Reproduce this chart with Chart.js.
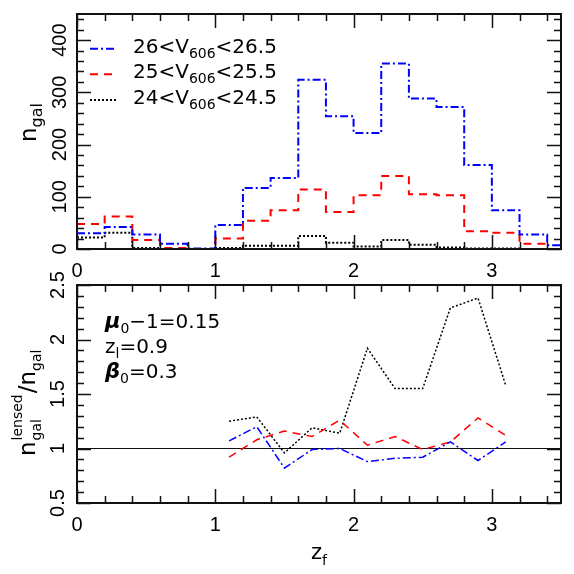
<!DOCTYPE html>
<html><head><meta charset="utf-8">
<script src="https://cdn.jsdelivr.net/npm/chart.js@4/dist/chart.umd.min.js"></script>
<style>
html,body{margin:0;padding:0;background:#fff;}
#wrap{position:relative;width:574px;height:574px;background:#fff;}
canvas{position:absolute;left:0;top:0;}
</style></head><body>
<div id="wrap"><canvas id="cTop" width="574" height="574"></canvas><canvas id="cBot" width="574" height="574"></canvas></div>
<script>
// ---- data ----
const binLeft = [0,0.2,0.4,0.6,0.8,1.0,1.2,1.4,1.6,1.8,2.0,2.2,2.4,2.6,2.8,3.0,3.2,3.4];
const binRightEnd = 3.6;
const histBlue  = [30,42,28,10,1,46,117,136,324,254,222,355,288,272,161,74,28,7];
const histRed   = [48,62,17,2,0,20,54,74,114,71,103,140,105,103,34,31,10,0];
const histBlack = [22,31,2,0,0,2,6,6,25,12,5,17,8,3,1,1,0,0];

const ratioZ     = [1.1,1.3,1.5,1.7,1.9,2.1,2.3,2.5,2.7,2.9,3.1];
const ratioBlue  = [1.07,1.20,0.82,0.99,1.00,0.88,0.91,0.92,1.06,0.89,1.06];
const ratioRed   = [0.92,1.08,1.16,1.11,1.26,1.03,1.11,0.99,1.06,1.28,1.12];
const ratioBlack = [1.25,1.29,0.96,1.19,1.14,1.92,1.55,1.55,2.29,2.38,1.58];

const xTicks = [0,1,2,3];
const xTickLabels = ['0','1','2','3'];
const yTopTicks = [0,100,200,300,400];
const yTopTickLabels = ['0','100','200','300','400'];
const yBotTicks = [0.5,1,1.5,2,2.5];
const yBotTickLabels = ['0.5','1','1.5','2','2.5'];
const legendLow = ['26','25','24'];
const legendHigh = ['26.5','25.5','24.5'];
const legendBand = '606';
const refLevel = 1;

// ---- helpers ----
function stepPoints(vals){
  const pts = binLeft.map((x,i)=>({x:x, y:vals[i]}));
  pts.push({x:binRightEnd, y:vals[vals.length-1]});
  return pts;
}
function linePoints(vals){ return ratioZ.map((x,i)=>({x:x,y:vals[i]})); }

const styles = {
  blue:{color:'#0000ff', dash:[8,3,2,3]},
  red:{color:'#ff0000', dash:[8,6]},
  black:{color:'#000000', dash:[2,2]}
};
function ds(label, data, st, w, stepped){
  return {label, data, borderColor:st.color, borderDash:st.dash, borderWidth:w,
          pointRadius:0, fill:false, stepped:stepped, tension:0, borderCapStyle:'butt'};
}

function drawRich(ctx, x, y, parts){
  let cx = x;
  for (const p of parts){
    ctx.font = (p.style||'') + ' ' + p.size + 'px ' + (p.family||'"DejaVu Sans"');
    ctx.fillText(p.t, cx, y + (p.dy||0));
    cx += ctx.measureText(p.t).width;
  }
  return cx;
}

function framePluginFactory(minorX, minorY){
  return {
    id:'frame',
    afterDatasetsDraw(chart){
      const {ctx, chartArea:a, scales} = chart;
      const xs = scales.x, ys = scales.y;
      ctx.save();
      ctx.strokeStyle = '#111';
      ctx.lineWidth = 1.5;
      ctx.beginPath();
      const majL = 14, minL = 7;
      const xmin = xs.min, xmax = xs.max, ymin = ys.min, ymax = ys.max;
      for (let k=0; ; k++){
        const v = xmin + k*minorX;
        if (v > xmax + 1e-9) break;
        const px = Math.round(xs.getPixelForValue(v)) + 0.5;
        const isMaj = Math.abs(v - Math.round(v)) < 1e-6;
        const L = isMaj ? majL : minL;
        ctx.moveTo(px, a.bottom); ctx.lineTo(px, a.bottom - L);
        ctx.moveTo(px, a.top); ctx.lineTo(px, a.top + L);
      }
      const majStepY = minorY*5;
      for (let k=0; ; k++){
        const v = ymin + k*minorY;
        if (v > ymax + 1e-9) break;
        const py = Math.round(ys.getPixelForValue(v)) + 0.5;
        const r = v/majStepY;
        const isMaj = Math.abs(r - Math.round(r)) < 1e-6;
        const L = isMaj ? majL : minL;
        ctx.moveTo(a.left, py); ctx.lineTo(a.left + L, py);
        ctx.moveTo(a.right, py); ctx.lineTo(a.right - L, py);
      }
      ctx.stroke();
      ctx.lineWidth = 2;
      ctx.strokeRect(a.left, a.top, a.right - a.left, a.bottom - a.top);
      ctx.restore();
    }
  };
}

const tickFont = {family:'"Liberation Sans", Arial, sans-serif', size:20};

function makeScales(ymin, ymax, yT, yL, yPad){
  return {
    x:{type:'linear', min:0, max:3.5,
       grid:{display:false, drawTicks:false}, border:{display:false},
       ticks:{font:tickFont, color:'#000', padding:10, maxRotation:0, minRotation:0,
              callback:(v)=>{const i=xTicks.indexOf(v); return i>=0?xTickLabels[i]:'';}},
       afterBuildTicks:s=>{s.ticks = xTicks.map(v=>({value:v}));},
       afterFit:s=>{s.height = 30;}},
    y:{type:'linear', min:ymin, max:ymax,
       grid:{display:false, drawTicks:false}, border:{display:false},
       ticks:{font:tickFont, color:'#000', padding:yPad, minRotation:90, maxRotation:90, crossAlign:'center',
              callback:(v)=>{const i=yT.indexOf(v); return i>=0?yL[i]:'';}},
       afterBuildTicks:s=>{s.ticks = yT.map(v=>({value:v}));},
       afterFit:s=>{s.width = 77;}}
  };
}

// ---- top chart ----
const topText = {
  id:'topText',
  afterDraw(chart){
    const ctx = chart.ctx;
    ctx.save();
    ctx.fillStyle = '#000';
    ctx.textBaseline = 'alphabetic';
    // legend
    const rows = [styles.blue, styles.red, styles.black];
    const base = [52.7, 78.3, 104];
    rows.forEach((st,i)=>{
      ctx.save();
      ctx.strokeStyle = st.color; ctx.lineWidth = 2; ctx.setLineDash(st.dash);
      ctx.beginPath(); ctx.moveTo(90, base[i]-4); ctx.lineTo(116, base[i]-4); ctx.stroke();
      ctx.restore();
      drawRich(ctx, 133, base[i], [
        {t:legendLow[i]+'<V', size:20},
        {t:legendBand, size:14, dy:5},
        {t:'<'+legendHigh[i], size:20}
      ]);
    });
    // y title
    ctx.save();
    ctx.translate(36, 142); ctx.rotate(-Math.PI/2);
    drawRich(ctx, 0, 0, [{t:'n', size:23},{t:'gal', size:16, dy:6}]);
    ctx.restore();
    ctx.restore();
  }
};

new Chart(document.getElementById('cTop'), {
  type:'line',
  data:{datasets:[
    ds('26<V606<26.5', stepPoints(histBlue), styles.blue, 2, true),
    ds('25<V606<25.5', stepPoints(histRed), styles.red, 2, true),
    ds('24<V606<24.5', stepPoints(histBlack), styles.black, 2, true)
  ]},
  options:{
    responsive:false, animation:false, events:[],
    layout:{padding:{left:0, right:13, top:14, bottom:574-249-30}},
    plugins:{legend:{display:false}, tooltip:{enabled:false}},
    scales: makeScales(0, 450, yTopTicks, yTopTickLabels, 0)
  },
  plugins:[framePluginFactory(0.2, 20), topText]
});

// ---- bottom chart ----
const botText = {
  id:'botText',
  beforeDatasetsDraw(chart){
    const {ctx, chartArea:a, scales} = chart;
    const py = scales.y.getPixelForValue(refLevel);
    ctx.save();
    ctx.strokeStyle = '#111'; ctx.lineWidth = 1.2;
    ctx.beginPath(); ctx.moveTo(a.left, py); ctx.lineTo(a.right, py); ctx.stroke();
    ctx.restore();
  },
  afterDraw(chart){
    const ctx = chart.ctx;
    ctx.save();
    ctx.fillStyle = '#000';
    ctx.textBaseline = 'alphabetic';
    drawRich(ctx, 105, 328, [
      {t:'\u03bc', size:21, style:'bold italic'},
      {t:'0', size:14, dy:5},
      {t:'\u22121=0.15', size:20}
    ]);
    drawRich(ctx, 105, 353, [
      {t:'z', size:20},
      {t:'l', size:14, dy:5},
      {t:'=0.9', size:20}
    ]);
    drawRich(ctx, 105, 378, [
      {t:'\u03b2', size:21, style:'bold italic'},
      {t:'0', size:14, dy:5},
      {t:'=0.3', size:20}
    ]);
    // x title
    drawRich(ctx, 311, 559, [{t:'z', size:21},{t:'f', size:14, dy:6}]);
    // y title
    ctx.save();
    ctx.translate(35, 456); ctx.rotate(-Math.PI/2);
    ctx.font = '23px "DejaVu Sans"';
    ctx.fillText('n', 0, 0);
    let u = ctx.measureText('n').width + 1;
    ctx.font = '14px "DejaVu Sans"';
    ctx.fillText('lensed', u, -13);
    const wl = ctx.measureText('lensed').width;
    ctx.fillText('gal', u, 6);
    const wg = ctx.measureText('gal').width;
    u += Math.max(wl, wg) + 1;
    u = drawRich(ctx, u, 0, [{t:'/', size:23},{t:'n', size:23},{t:'gal', size:14, dy:6}]);
    ctx.restore();
    ctx.restore();
  }
};

new Chart(document.getElementById('cBot'), {
  type:'line',
  data:{datasets:[
    ds('26<V606<26.5', linePoints(ratioBlue), styles.blue, 1.5, false),
    ds('25<V606<25.5', linePoints(ratioRed), styles.red, 1.5, false),
    ds('24<V606<24.5', linePoints(ratioBlack), styles.black, 1.5, false)
  ]},
  options:{
    responsive:false, animation:false, events:[],
    layout:{padding:{left:0, right:13, top:285, bottom:574-503-30}},
    plugins:{legend:{display:false}, tooltip:{enabled:false}},
    scales: makeScales(0.5, 2.5, yBotTicks, yBotTickLabels, 5)
  },
  plugins:[framePluginFactory(0.2, 0.1), botText]
});
</script>
</body></html>
